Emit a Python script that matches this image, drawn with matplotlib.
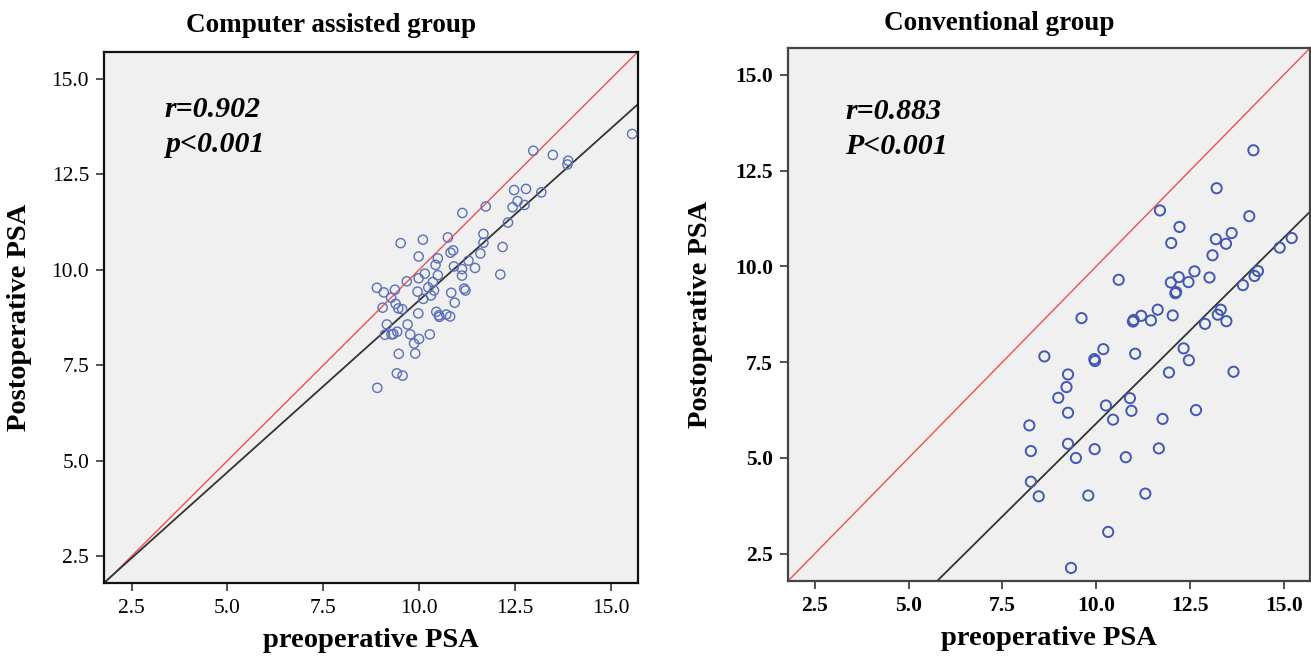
import matplotlib
matplotlib.use("Agg")
import matplotlib.pyplot as plt

# ---------------- data ----------------
ca_pre = [12.98, 13.49, 13.89, 13.87, 15.56,
          12.48, 12.79, 13.19, 12.57, 12.44, 12.75, 11.74, 11.13, 12.32, 11.68,
          11.68, 12.18, 11.60, 9.52, 10.10, 10.75, 9.99, 10.49, 10.82, 10.89,
          11.29, 10.43, 10.91, 11.12, 11.46, 11.12, 12.12, 10.15, 9.99, 10.49,
          9.68, 10.36, 10.24, 10.39, 8.90, 9.37, 9.08, 9.96, 10.31, 10.11,
          9.27, 10.84, 11.18, 11.21, 10.93, 9.39, 9.05, 9.46, 9.56, 9.98,
          10.45, 10.52, 10.53, 10.71, 10.81, 9.16, 9.70, 9.11, 9.28, 9.33,
          9.43, 9.77, 10.28, 10.00, 9.87, 9.47, 9.90, 9.42, 9.57, 8.91]
ca_post = [13.12, 13.01, 12.86, 12.76, 13.56,
           12.09, 12.12, 12.03, 11.80, 11.64, 11.70, 11.66, 11.49, 11.24, 10.94,
           10.71, 10.60, 10.43, 10.70, 10.79, 10.85, 10.35, 10.30, 10.45, 10.51,
           10.24, 10.13, 10.09, 10.02, 10.05, 9.85, 9.88, 9.90, 9.78, 9.86,
           9.70, 9.68, 9.54, 9.46, 9.53, 9.48, 9.41, 9.43, 9.33, 9.24,
           9.27, 9.40, 9.51, 9.46, 9.14, 9.11, 9.01, 8.99, 8.97, 8.86,
           8.90, 8.81, 8.77, 8.83, 8.78, 8.57, 8.57, 8.30, 8.31, 8.32,
           8.38, 8.31, 8.31, 8.19, 8.07, 7.80, 7.81, 7.29, 7.23, 6.91]

cv_pre = [14.19, 13.21, 11.70, 14.08, 12.22, 12.00, 13.19, 13.46, 13.61, 15.21,
          13.10, 14.89, 10.60, 11.99, 12.20, 12.62, 12.46, 13.02, 12.11, 12.13,
          13.91, 14.22, 14.31, 9.61, 10.98, 11.00, 11.20, 11.46, 11.64, 12.04,
          12.90, 13.24, 13.32, 13.47, 8.62, 10.19, 9.97, 9.95, 11.04, 12.33,
          12.47, 9.25, 11.94, 13.66, 9.21, 8.99, 10.90, 9.25, 10.26, 10.94,
          12.66, 10.45, 11.77, 8.22, 8.26, 9.25, 9.46, 9.96, 10.79, 11.67,
          8.26, 8.47, 9.79, 11.31, 10.32, 9.33]
cv_post = [13.03, 12.04, 11.46, 11.31, 11.03, 10.61, 10.71, 10.59, 10.87, 10.74,
           10.29, 10.49, 9.65, 9.58, 9.72, 9.87, 9.59, 9.71, 9.30, 9.33,
           9.51, 9.75, 9.88, 8.65, 8.56, 8.60, 8.71, 8.59, 8.87, 8.72,
           8.50, 8.74, 8.87, 8.57, 7.65, 7.84, 7.53, 7.58, 7.72, 7.86,
           7.55, 7.18, 7.23, 7.25, 6.85, 6.57, 6.56, 6.18, 6.37, 6.23,
           6.25, 6.00, 6.02, 5.85, 5.18, 5.37, 5.00, 5.23, 5.02, 5.25,
           4.38, 4.00, 4.02, 4.07, 3.07, 2.13]

# fitted regression lines
ca_fit_slope, ca_fit_intercept = 0.90, 0.20
cv_fit_slope, cv_fit_intercept = 0.97, -3.80

titles = ["Computer assisted group", "Conventional group"]
stats = [("r=0.902", "p<0.001"), ("r=0.883", "P<0.001")]
ticks = [2.5, 5.0, 7.5, 10.0, 12.5, 15.0]
tick_labels = ["2.5", "5.0", "7.5", "10.0", "12.5", "15.0"]
xlabel = "preoperative PSA"
ylabel = "Postoperative PSA"

# ---------------- figure ----------------
serif = ["Liberation Serif", "DejaVu Serif"]
fig = plt.figure(figsize=(13.11, 6.59), dpi=100)

positions = [[0.0796, 0.1149, 0.4067, 0.8058],
             [0.6011, 0.1184, 0.3982, 0.8088]]
lims = (1.79, 15.70)

panels = [(ca_pre, ca_post, ca_fit_slope, ca_fit_intercept),
          (cv_pre, cv_post, cv_fit_slope, cv_fit_intercept)]
title_x = [331 / 1311, 999 / 1311]
title_y = [0.962, 0.965]
text_x = [0.1135, 0.110]
text_y = [0.918, 0.906]
ylab_x = [-0.160, -0.168]
tick_weight = ["normal", "bold"]
marker_col = ["#5b6fbd", "#4258b4"]
marker_size = [44, 54]
marker_lw = [1.0, 1.4]
spine_col = ["#111111", "#444444"]

for i, (xs, ys, slope, icpt) in enumerate(panels):
    ax = fig.add_axes(positions[i])
    ax.set_facecolor("#f0f0f0")
    ax.set_xlim(*lims)
    ax.set_ylim(*lims)
    ax.axline((0, 0), slope=1.0, color="#ee5050", lw=1.0, zorder=2)
    ax.axline((0, icpt), slope=slope, color="#333333", lw=1.3, zorder=2)
    ax.scatter(xs, ys, s=marker_size[i], facecolors="none",
               edgecolors=marker_col[i], linewidths=marker_lw[i], zorder=3)
    ax.set_xticks(ticks)
    ax.set_yticks(ticks)
    ax.set_xticklabels(tick_labels, fontfamily=serif, fontsize=15.5,
                       fontweight=tick_weight[i])
    ax.set_yticklabels(tick_labels, fontfamily=serif, fontsize=15.5,
                       fontweight=tick_weight[i])
    ax.tick_params(direction="out", length=6, width=1.2, color="#333333",
                   pad=5)
    for sp in ax.spines.values():
        sp.set_linewidth(1.6)
        sp.set_color(spine_col[i])
    ax.set_xlabel(xlabel, fontfamily=serif, fontsize=20.5, fontweight="bold")
    ax.set_ylabel(ylabel, fontfamily=serif, fontsize=20.5, fontweight="bold")
    ax.xaxis.label.set_va("center")
    ax.yaxis.label.set_va("center")
    ax.xaxis.set_label_coords(0.5, -0.107)
    ax.yaxis.set_label_coords(ylab_x[i], 0.5)
    ax.text(text_x[i], text_y[i], stats[i][0], transform=ax.transAxes,
            fontfamily=serif, fontsize=21.5, fontweight="bold", style="italic",
            va="top", ha="left")
    ax.text(text_x[i], text_y[i] - 0.066, stats[i][1], transform=ax.transAxes,
            fontfamily=serif, fontsize=21.5, fontweight="bold", style="italic",
            va="top", ha="left")
    fig.text(title_x[i], title_y[i], titles[i], fontfamily=serif,
             fontsize=19.5, fontweight="bold", ha="center", va="center")

fig.savefig("out.png", dpi=100, facecolor="white")
